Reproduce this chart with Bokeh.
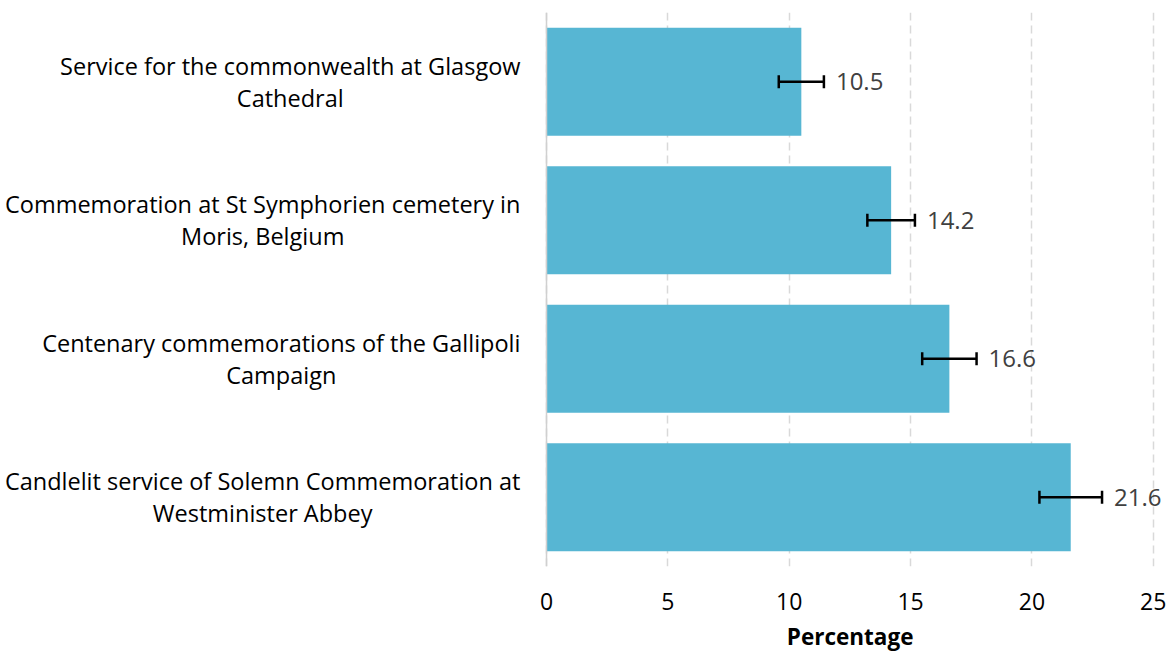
import glob
import os

from bokeh.plotting import figure
from bokeh.models import ColumnDataSource, FactorRange, Range1d, FixedTicker, Whisker, TeeHead, Span, Title
from bokeh.core.properties import value
from bokeh.embed import file_html
from bokeh.resources import INLINE

# Survey results: share of respondents who watched each event (percent)
events = [
    "Service for the commonwealth at Glasgow\nCathedral",
    "Commemoration at St Symphorien cemetery in\nMoris, Belgium",
    "Centenary commemorations of the Gallipoli\nCampaign",
    "Candlelit service of Solemn Commemoration at\nWestminister Abbey",
]
percentages = [10.5, 14.2, 16.6, 21.6]
errors = [0.93, 0.98, 1.12, 1.29]
x_ticks = [0, 5, 10, 15, 20, 25]
x_title = "Percentage"

FONT = "Open Sans"
CAT_SIZE = 23.5
TITLE_SIZE = 22.5
BAR_COLOR = "#57B6D3"
GRID_COLOR = "#d9d9d9"

# Plot scale: the frame covers the full page width, with the category
# labels living in the negative part of the x range.
WIDTH, HEIGHT = 1169, 657
PX_PER_UNIT = 24.27
ZERO_PX = 546
X_START = -ZERO_PX / PX_PER_UNIT
X_END = X_START + WIDTH / PX_PER_UNIT
LABEL_RIGHT = -26 / PX_PER_UNIT   # right edge of the category label blocks


def _find_font(bold=False):
    pats = ["/usr/share/fonts/**/OpenSans*.ttf", "/usr/local/share/fonts/**/OpenSans*.ttf",
            os.path.expanduser("~/.fonts/**/OpenSans*.ttf"),
            os.path.expanduser("~/.local/share/fonts/**/OpenSans*.ttf")]
    found = []
    for pat in pats:
        found += glob.glob(pat, recursive=True)
    found = [f for f in found if "Italic" not in f]
    if not found:
        return None
    want = "Bold" if bold else "Regular"
    exact = [f for f in found if os.path.basename(f).split(".")[0].endswith("-" + want)]
    if exact:
        return exact[0]
    found.sort(key=len)
    return found[0]


def text_width(line, size, bold=False):
    """Pixel width of a line of text in the label font."""
    try:
        from PIL import ImageFont
        path = _find_font(bold)
        if path:
            font = ImageFont.truetype(path, 100)
            if bold and "[" in path:
                try:
                    font.set_variation_by_axes([100, 700])
                except Exception:
                    pass
            return font.getlength(line) * size / 100.0
    except Exception:
        pass
    return len(line) * (0.56 if bold else 0.52) * size


# each label block is right-aligned, with its lines centred within the block
block_offsets = [-max(text_width(ln, CAT_SIZE) for ln in e.split("\n")) / 2 for e in events]

source = ColumnDataSource(dict(
    event=events,
    pct=percentages,
    lower=[v - e for v, e in zip(percentages, errors)],
    upper=[v + e for v, e in zip(percentages, errors)],
    label=[f"{v:.1f}" for v in percentages],
    label_x=[LABEL_RIGHT] * len(events),
    label_off=block_offsets,
))

p = figure(
    width=WIDTH, height=HEIGHT,
    y_range=FactorRange(factors=list(reversed(events))),
    x_range=Range1d(X_START, X_END),
    output_backend="svg", toolbar_location=None,
    min_border_left=0, min_border_right=0, min_border_top=12, min_border_bottom=89,
)
p.outline_line_color = None
p.background_fill_color = "white"
p.border_fill_color = "white"

p.hbar(y="event", right="pct", left=0, height=0.78, source=source,
       fill_color=BAR_COLOR, line_color=None)

# solid zero line
p.add_layout(Span(location=0, dimension="height", line_color="#d0d0d0", line_width=1.5))

whisker = Whisker(
    source=source, base="event", lower="lower", upper="upper", dimension="width",
    line_color="black", line_width=2.4, level="overlay",
    lower_head=TeeHead(size=13, line_color="black", line_width=2.5),
    upper_head=TeeHead(size=13, line_color="black", line_width=2.5),
)
p.add_layout(whisker)

# value labels
p.text(x="upper", y="event", text="label", source=source,
       x_offset=12, text_align="left", text_baseline="middle",
       text_font=value(FONT), text_font_size="24px", text_color="#404040")

# category labels
p.text(x="label_x", y="event", text="event", source=source,
       x_offset="label_off", text_align="center", text_baseline="middle",
       text_font=value(FONT), text_font_size=f"{CAT_SIZE}px", text_color="black",
       text_line_height=1.0)

# x axis
p.xaxis.ticker = FixedTicker(ticks=x_ticks)
p.xaxis.axis_line_color = None
p.xaxis.major_tick_line_color = None
p.xaxis.minor_tick_line_color = None
p.xaxis.major_label_text_font = FONT
p.xaxis.major_label_text_font_size = "23px"
p.xaxis.major_label_text_color = "black"
p.xaxis.major_label_standoff = 20

# axis title, centred under the tick span (0..25) rather than the whole frame
tick_mid_px = ZERO_PX + (x_ticks[0] + x_ticks[-1]) / 2 * PX_PER_UNIT
title_w = text_width(x_title, TITLE_SIZE, bold=True)
p.add_layout(Title(
    text=x_title, align="left", offset=tick_mid_px - title_w / 2, standoff=12,
    text_font=FONT, text_font_size=f"{TITLE_SIZE}px", text_font_style="bold", text_color="black",
), "below")

p.yaxis.visible = False

p.xgrid.grid_line_color = GRID_COLOR
p.xgrid.grid_line_width = 1.5
p.xgrid.grid_line_dash = "8 5"
p.ygrid.grid_line_color = None

open("out.html", "w").write(file_html(p, INLINE))
